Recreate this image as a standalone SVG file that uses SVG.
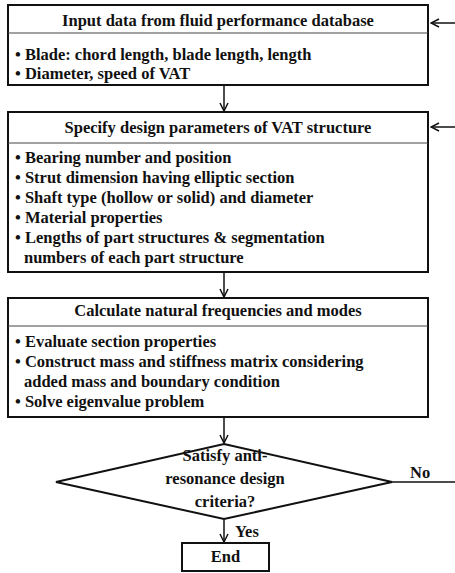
<svg xmlns="http://www.w3.org/2000/svg" width="455" height="573" viewBox="0 0 455 573">
<style>
.box{fill:#fff;stroke:#111;stroke-width:2}
.div{stroke:#444;stroke-width:1}
.t{font-family:"Liberation Serif","Times New Roman",serif;font-weight:bold;font-size:16.5px;fill:#111}
.c{text-anchor:middle}
.ln{stroke:#111;stroke-width:1.5;fill:none}
</style>
<defs>
<marker id="ah" viewBox="0 0 10 10" refX="9" refY="5" markerWidth="10" markerHeight="10" markerUnits="userSpaceOnUse" orient="auto">
<path d="M1,1 L9,5 L1,9" fill="none" stroke="#111" stroke-width="1.5"/>
</marker>
</defs>
<rect width="455" height="573" fill="#fff"/>
<g id="connectors">
<line class="ln" x1="224" y1="85" x2="224" y2="111" marker-end="url(#ah)"/>
<line class="ln" x1="224" y1="272" x2="224" y2="297" marker-end="url(#ah)"/>
<line class="ln" x1="224" y1="417" x2="224" y2="443" marker-end="url(#ah)"/>
<line class="ln" x1="224" y1="519" x2="224" y2="542" marker-end="url(#ah)"/>
<line class="ln" x1="455" y1="23" x2="431" y2="23" marker-end="url(#ah)"/>
<line class="ln" x1="455" y1="127" x2="431" y2="127" marker-end="url(#ah)"/>
<line class="ln" x1="392" y1="482" x2="455" y2="482"/>
<text class="t" x="410" y="478">No</text>
<text class="t" x="235" y="537">Yes</text>
</g>
<g id="input">
<rect class="box" x="8" y="5" width="420" height="80"/>
<line class="div" x1="8" y1="33" x2="428" y2="33"/>
<text class="t c" x="218" y="26">Input data from fluid performance database</text>
<text class="t" x="15" y="60">• Blade: chord length, blade length, length</text>
<text class="t" x="15" y="79">• Diameter, speed of VAT</text>
</g>
<g id="specify">
<rect class="box" x="8" y="112" width="420" height="160"/>
<line class="div" x1="8" y1="143" x2="428" y2="143"/>
<text class="t c" x="218" y="133">Specify design parameters of VAT structure</text>
<text class="t" x="15" y="163">• Bearing number and position</text>
<text class="t" x="15" y="183">• Strut dimension having elliptic section</text>
<text class="t" x="15" y="203">• Shaft type (hollow or solid) and diameter</text>
<text class="t" x="15" y="223">• Material properties</text>
<text class="t" x="15" y="243">• Lengths of part structures &amp; segmentation</text>
<text class="t" x="24" y="263">numbers of each part structure</text>
</g>
<g id="calculate">
<rect class="box" x="8" y="298" width="420" height="119"/>
<line class="div" x1="8" y1="326" x2="428" y2="326"/>
<text class="t c" x="218" y="316">Calculate natural frequencies and modes</text>
<text class="t" x="15" y="347">• Evaluate section properties</text>
<text class="t" x="15" y="367">• Construct mass and stiffness matrix considering</text>
<text class="t" x="24" y="387">added mass and boundary condition</text>
<text class="t" x="15" y="407">• Solve eigenvalue problem</text>
</g>
<g id="decision">
<polygon class="box" points="224,444 392,482 224,519 56,482"/>
<text class="t c" x="225" y="461">Satisfy anti-</text>
<text class="t c" x="225" y="484">resonance design</text>
<text class="t c" x="225" y="507">criteria?</text>
</g>
<g id="end">
<rect class="box" x="182" y="543" width="87" height="28"/>
<text class="t c" x="225.5" y="562">End</text>
</g>
</svg>
